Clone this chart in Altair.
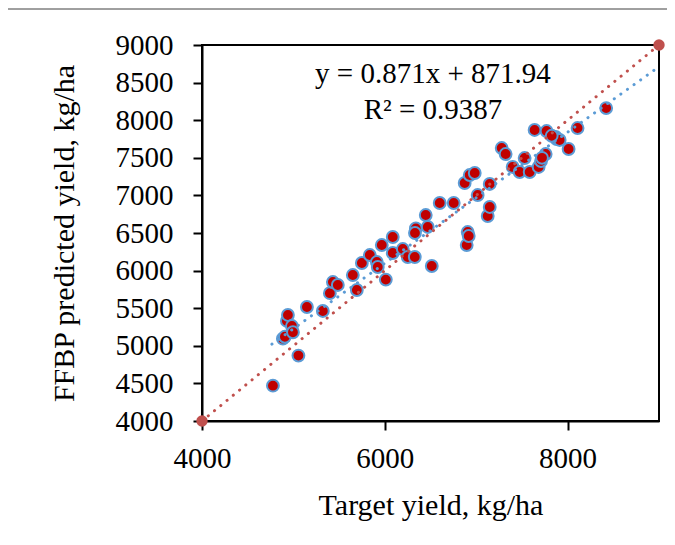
import altair as alt
import pandas as pd

# Observed (target) vs predicted yields, kg/ha
target = [4776, 5055, 4885, 4907, 4929, 4940, 4984, 4995, 5148, 5322,
          5399, 5432, 5486, 5650, 5694, 5749, 5836, 5913, 5923, 5967,
          6011, 6087, 6087, 6197, 6251, 6328, 6340, 6330, 6448, 6470,
          6514, 6601, 6754, 6874, 6929, 6984, 6896, 6907, 6918, 7016,
          7126, 7148, 7148, 7279, 7322, 7399, 7475, 7530, 7585, 7639,
          7683, 7760, 7770, 7869, 7880, 7913, 8011, 8109, 8422, 7709,
          7826, 7720]
predicted = [4470, 4870, 5095, 5120, 5330, 5410, 5263, 5180, 5516, 5463,
             5700, 5848, 5809, 5941, 5742, 6101, 6207, 6114, 6048, 6340,
             5880, 6447, 6234, 6287, 6181, 6181, 6560, 6500, 6739, 6580,
             6061, 6899, 6899, 7165, 7271, 7298, 6340, 6513, 6460, 7005,
             6726, 6846, 7152, 7630, 7550, 7378, 7311, 7497, 7311, 7870,
             7378, 7550, 7856, 7777, 7750, 7737, 7617, 7896, 8161, 7456,
             7793, 7500]

# Linear trendline end points (y = 0.871x + 871.94)
trend_x = [4765, 9000]
trend_y = [5022, 8711]

# 1:1 line
one_x = [4000, 9000]
one_y = [4000, 9000]

eq_lines = ["y = 0.871x + 871.94", "R\u00b2 = 0.9387"]
eq_x = [6527, 6527]
eq_y = [8495, 8016]

y_ticks = [4000, 4500, 5000, 5500, 6000, 6500, 7000, 7500, 8000, 8500, 9000]
x_ticks = [4000, 6000, 8000]

FONT = "Liberation Serif"

pts = pd.DataFrame({"x": target, "y": predicted})
trend = pd.DataFrame({"x": trend_x, "y": trend_y})
one = pd.DataFrame({"x": one_x, "y": one_y})
eq = pd.DataFrame({"x": eq_x, "y": eq_y, "t": eq_lines})

xs = alt.Scale(domain=[4000, 9000], nice=False, zero=False)
ys = alt.Scale(domain=[4000, 9000], nice=False, zero=False)

x_axis = alt.Axis(values=x_ticks, format="d", title="Target yield, kg/ha",
                  grid=False, labelPadding=14, titlePadding=17, labelOverlap=False)
y_axis = alt.Axis(values=y_ticks, format="d", title="FFBP predicted yield, kg/ha",
                  grid=False, labelPadding=20, titlePadding=36, labelOverlap=False)


def X():
    return alt.X("x:Q", scale=xs, axis=x_axis)


def Y():
    return alt.Y("y:Q", scale=ys, axis=y_axis)


frame = alt.Chart(pd.DataFrame({"a": [0]})).mark_rect(
    fill=None, stroke="#404040", strokeWidth=1
).encode(
    x=alt.value(-197), x2=alt.value(470), y=alt.value(-36), y2=alt.value(498)
)

points = alt.Chart(pts).mark_point(
    shape="circle", filled=True, fill="#C00000", stroke="#5B9BD5",
    strokeWidth=2, size=140, opacity=1
).encode(x=X(), y=Y())

trend_line = alt.Chart(trend).mark_line(
    color="#5B9BD5", strokeWidth=3, strokeDash=[0.1, 8], strokeCap="round"
).encode(x=X(), y=Y())

one_line = alt.Chart(one).mark_line(
    color="#C0504D", strokeWidth=3, strokeDash=[0.1, 8], strokeCap="round"
).encode(x=X(), y=Y())

one_pts = alt.Chart(one).mark_point(
    shape="circle", filled=True, color="#C0504D", size=130, opacity=1
).encode(x=X(), y=Y())

text = alt.Chart(eq).mark_text(
    font=FONT, fontSize=29, color="#000000", align="center", baseline="alphabetic"
).encode(x=X(), y=Y(), text="t:N")

chart = alt.layer(points, trend_line, one_line, one_pts, text, frame).properties(
    width=457, height=376,
    autosize=alt.AutoSizeParams(type="none"),
    padding={"left": 194, "top": 37, "right": 8, "bottom": 116},
    background="white",
).configure_view(
    stroke="#000000", strokeWidth=2
).configure_axis(
    domainColor="#000000", domainWidth=2, tickColor="#000000", tickWidth=2,
    tickSize=9, labelFont=FONT, labelFontSize=29, labelColor="#000000",
    titleFont=FONT, titleFontSize=30, titleColor="#000000", titleFontWeight="normal",
    labelFlush=False
)

chart.save("out.html", embed_options={"renderer": "svg", "actions": False})
